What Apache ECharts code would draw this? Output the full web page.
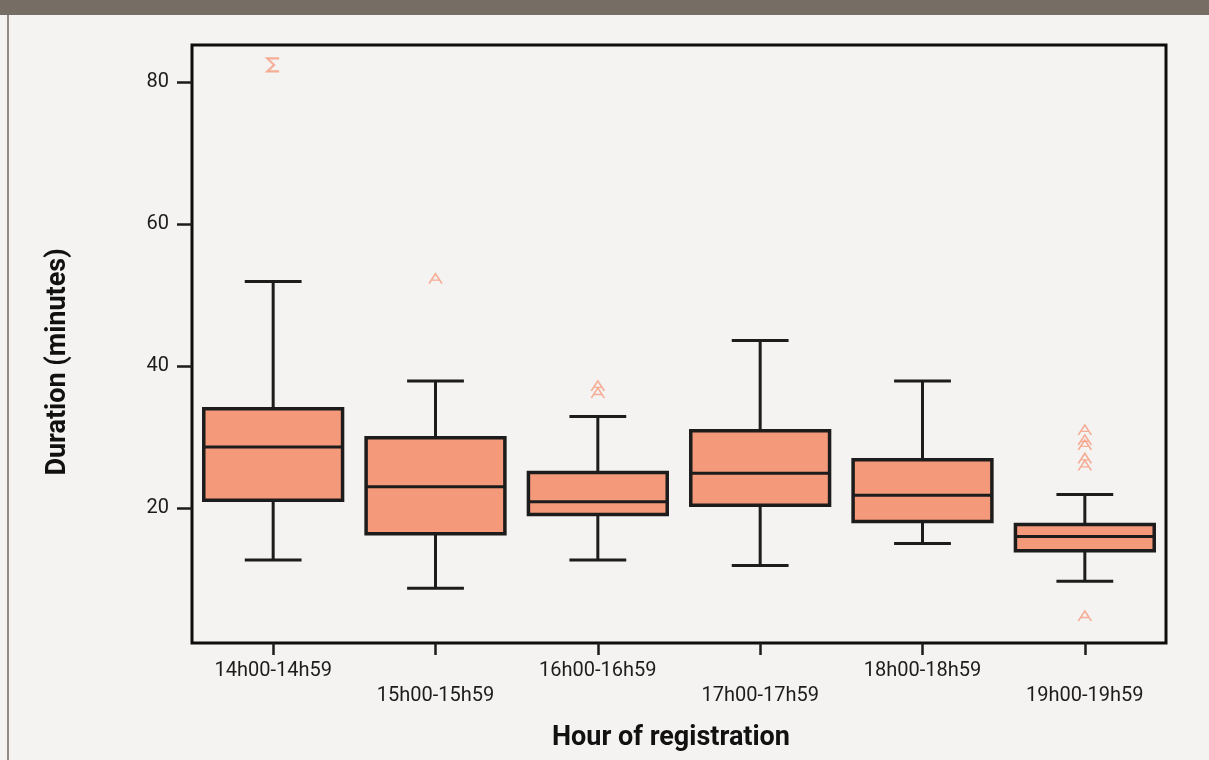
<!DOCTYPE html>
<html>
<head>
<meta charset="utf-8">
<script src="https://cdn.jsdelivr.net/npm/echarts@6/dist/echarts.min.js"></script>
<style>
  html, body { margin: 0; padding: 0; background: #f4f3f1; }
  #chart { width: 1209px; height: 760px; }
</style>
</head>
<body>
<div id="chart"></div>
<script>
// Registration hour groups
const categories = ['14h00-14h59', '15h00-15h59', '16h00-16h59', '17h00-17h59', '18h00-18h59', '19h00-19h59'];

// Box statistics (minutes)
const whiskerLow  = [12.7,  8.7, 12.7, 11.9, 15.0,  9.7];
const q1          = [21.1, 16.4, 19.1, 20.4, 18.1, 14.0];
const median      = [28.6, 23.0, 20.9, 24.9, 21.8, 16.0];
const q3          = [34.0, 29.9, 25.0, 30.9, 26.8, 17.7];
const whiskerHigh = [51.9, 37.9, 32.9, 43.6, 37.9, 21.9];

// Outliers (category index, minutes)
const outlierCategory = [1, 2, 2, 5, 5, 5, 5, 5, 5];
const outlierValue    = [52.3, 37.2, 36.2, 31.0, 29.6, 28.9, 27.0, 26.0, 4.8];

// Extreme values (category index, minutes)
const extremeCategory = [0];
const extremeValue    = [82.4];

const yTicks = [20, 40, 60, 80];

const INK = '#1c1c1c';
const FILL = '#f5997b';
const MARK = '#f59b80';

const boxData = categories.map((c, i) => [i, whiskerLow[i], q1[i], median[i], q3[i], whiskerHigh[i]]);
const outlierData = outlierCategory.map((c, i) => [c, outlierValue[i]]);
const extremeData = extremeCategory.map((c, i) => [c, extremeValue[i]]);

function renderBox(params, api) {
  const i = api.value(0);
  const band = api.size([1, 0])[0];
  const boxW = band * 0.855;
  const capW = band * 0.35;
  const low = api.coord([i, api.value(1)]);
  const cx = low[0];
  const yLow = low[1];
  const yQ1 = api.coord([i, api.value(2)])[1];
  const yMed = api.coord([i, api.value(3)])[1];
  const yQ3 = api.coord([i, api.value(4)])[1];
  const yHigh = api.coord([i, api.value(5)])[1];
  const lineStyle = { stroke: INK, lineWidth: 3 };
  return {
    type: 'group',
    children: [
      { type: 'line', shape: { x1: cx, y1: yHigh, x2: cx, y2: yQ3 }, style: lineStyle },
      { type: 'line', shape: { x1: cx, y1: yQ1, x2: cx, y2: yLow }, style: lineStyle },
      { type: 'line', shape: { x1: cx - capW / 2, y1: yHigh, x2: cx + capW / 2, y2: yHigh }, style: lineStyle },
      { type: 'line', shape: { x1: cx - capW / 2, y1: yLow, x2: cx + capW / 2, y2: yLow }, style: lineStyle },
      { type: 'rect', shape: { x: cx - boxW / 2, y: yQ3, width: boxW, height: yQ1 - yQ3 },
        style: { fill: FILL, stroke: INK, lineWidth: 3.5 } },
      { type: 'line', shape: { x1: cx - boxW / 2, y1: yMed, x2: cx + boxW / 2, y2: yMed },
        style: { stroke: INK, lineWidth: 3 } }
    ]
  };
}

const chart = echarts.init(document.getElementById('chart'), null, { renderer: 'canvas' });

chart.setOption({
  backgroundColor: '#f4f3f1',
  animation: false,
  grid: {
    left: 192, right: 43, top: 45, bottom: 117,
    show: true, borderColor: '#0d0d0d', borderWidth: 3, backgroundColor: 'transparent'
  },
  xAxis: {
    type: 'category',
    data: categories,
    boundaryGap: true,
    axisLine: { show: false },
    axisTick: { show: true, alignWithLabel: true, length: 12, lineStyle: { color: INK, width: 2.5 } },
    axisLabel: {
      interval: 0,
      margin: 15,
      color: INK,
      fontFamily: 'Roboto',
      fontSize: 20,
      lineHeight: 25,
      formatter: (value, index) => (index % 2 === 1 ? '\n' + value : value)
    },
    splitLine: { show: false }
  },
  yAxis: {
    type: 'value',
    min: 1,
    max: 85.2,
    axisLine: { show: false },
    axisTick: { show: true, length: 15, customValues: yTicks, lineStyle: { color: INK, width: 2.5 } },
    axisLabel: { customValues: yTicks, margin: 23, color: INK, fontFamily: 'Roboto', fontSize: 20 },
    splitLine: { show: false }
  },
  graphic: [
    { type: 'rect', shape: { x: 0, y: 0, width: 1209, height: 15 }, style: { fill: '#766d64' }, z: 10 },
    { type: 'rect', shape: { x: 7, y: 15, width: 2, height: 745 }, style: { fill: '#938a83' }, z: 10 },
    { type: 'text', x: 671, y: 738,
      style: { text: 'Hour of registration', font: 'bold 27px Roboto', fill: '#111',
               align: 'center', verticalAlign: 'middle', textAlign: 'center', textVerticalAlign: 'middle' } },
    { type: 'text', x: 58, y: 362, rotation: Math.PI / 2,
      style: { text: 'Duration (minutes)', font: 'bold 27px Roboto', fill: '#111',
               align: 'center', verticalAlign: 'middle', textAlign: 'center', textVerticalAlign: 'middle' } }
  ],
  series: [
    {
      type: 'custom',
      name: 'Duration',
      renderItem: renderBox,
      encode: { x: 0, y: [1, 2, 3, 4, 5] },
      data: boxData,
      z: 3
    },
    {
      type: 'scatter',
      name: 'Outliers',
      data: outlierData,
      symbol: 'path://M0,10 L7,0 L14,10 M3,6.5 L11,6.5',
      symbolSize: [13, 10],
      itemStyle: { color: 'transparent', borderColor: MARK, borderWidth: 1.5 },
      z: 4
    },
    {
      type: 'scatter',
      name: 'Extremes',
      data: extremeData,
      symbol: 'path://M12,0 L0,0 L7,7 L0,14 L12,14',
      symbolSize: [12, 13],
      itemStyle: { color: 'transparent', borderColor: MARK, borderWidth: 2 },
      z: 4
    }
  ]
});
</script>
</body>
</html>
